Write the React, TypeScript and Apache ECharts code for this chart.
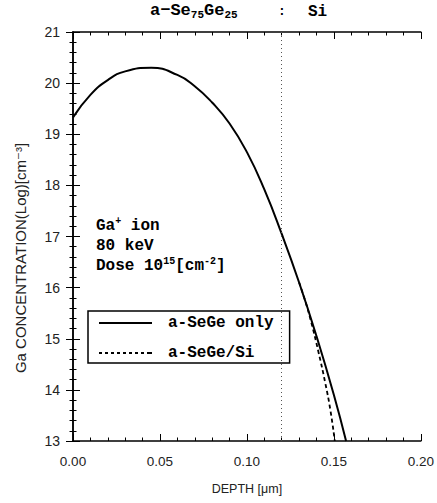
import React, { useEffect, useRef } from "react";
import * as echarts from "echarts";

const depthOnly = [0, 0.01, 0.02, 0.03, 0.045, 0.06, 0.07, 0.08, 0.09, 0.1, 0.11, 0.12, 0.13, 0.14, 0.15, 0.157];
const concOnly = [19.33, 19.77, 20.06, 20.23, 20.3, 20.16, 19.94, 19.62, 19.21, 18.65, 17.92, 17.05, 16.1, 15.05, 13.9, 13.0];
const depthSi = [0.13, 0.1335, 0.137, 0.141, 0.145, 0.148, 0.1505];
const concSi = [16.1, 15.74, 15.32, 14.76, 14.14, 13.6, 13.0];
const interfaceDepth = 0.12;
const xTicks = [0, 0.05, 0.1, 0.15, 0.2];
const yMin = 13;
const yMax = 21;
const seriesNames = ["a-SeGe only", "a-SeGe/Si"];

const mono = "'Liberation Mono', 'DejaVu Sans Mono', monospace";
const sans = "'Liberation Sans', 'DejaVu Sans', sans-serif";

const solidIcon = "path://M0,0h53v2h-53z";
const dashedIcon =
  "path://M0,0h3v2h-3z M6,0h3v2h-3z M12,0h3v2h-3z M18,0h3v2h-3z M24,0h3v2h-3z M30,0h3v2h-3z M36,0h3v2h-3z M42,0h3v2h-3z M48,0h3v2h-3z M50,0h3v2h-3z";

export default function App() {
  const ref = useRef<HTMLDivElement>(null);
  useEffect(() => {
    if (!ref.current) return;
    const chart = echarts.init(ref.current, null, { renderer: "svg" });
    const axisLine = { show: true, lineStyle: { color: "#000", width: 1.5 } };
    const tickIn = { show: true, inside: true, length: 7, lineStyle: { color: "#000", width: 1 } };
    const minorIn = { show: true, splitNumber: 5, length: 3.5, lineStyle: { color: "#000", width: 1 } };
    chart.setOption({
      animation: false,
      backgroundColor: "#fff",
      grid: { left: 73, right: 15, top: 32, bottom: 62 },
      xAxis: [
        {
          type: "value",
          min: 0,
          max: 0.2,
          interval: 0.05,
          axisLine,
          axisTick: tickIn,
          minorTick: minorIn,
          splitLine: { show: false },
          axisLabel: {
            color: "#222",
            fontFamily: sans,
            fontSize: 13.5,
            margin: 13,
            formatter: (v: number) => (xTicks.includes(+v.toFixed(2)) ? v.toFixed(2) : ""),
          },
          name: "DEPTH [μm]",
          nameLocation: "middle",
          nameGap: 41,
          nameTextStyle: { color: "#222", fontFamily: sans, fontSize: 12.5 },
        },
        {
          type: "value",
          position: "top",
          min: 0,
          max: 0.2,
          interval: 0.05,
          axisLine,
          axisTick: tickIn,
          minorTick: minorIn,
          splitLine: { show: false },
          axisLabel: { show: false },
        },
      ],
      yAxis: [
        {
          type: "value",
          min: yMin,
          max: yMax,
          interval: 1,
          axisLine,
          axisTick: tickIn,
          minorTick: minorIn,
          splitLine: { show: false },
          axisLabel: { color: "#222", fontFamily: sans, fontSize: 14, margin: 13 },
        },
        {
          type: "value",
          position: "right",
          min: yMin,
          max: yMax,
          interval: 1,
          axisLine,
          axisTick: tickIn,
          minorTick: minorIn,
          splitLine: { show: false },
          axisLabel: { show: false },
        },
      ],
      legend: {
        orient: "vertical",
        left: 88,
        top: 311,
        padding: [3, 16, 1, 11],
        itemGap: 12,
        itemWidth: 53,
        itemHeight: 2,
        borderColor: "#000",
        borderWidth: 1.5,
        borderRadius: 0,
        data: [
          { name: seriesNames[0], icon: solidIcon },
          { name: seriesNames[1], icon: dashedIcon },
        ],
        itemStyle: { color: "#000", borderWidth: 0 },
        textStyle: {
          color: "#000",
          fontFamily: mono,
          fontWeight: "bold",
          fontSize: 16,
          lineHeight: 18,
          padding: [0, 0, 0, 11],
        },
      },
      series: [
        {
          name: seriesNames[0],
          type: "line",
          smooth: 0.5,
          symbol: "none",
          data: depthOnly.map((d, i) => [d, concOnly[i]]),
          lineStyle: { color: "#000", width: 2 },
          itemStyle: { color: "#000" },
          z: 3,
          markLine: {
            silent: true,
            symbol: "none",
            label: { show: false },
            lineStyle: { color: "#555", type: [1, 3], width: 1 },
            data: [{ xAxis: interfaceDepth }],
          },
        },
        {
          name: seriesNames[1],
          type: "line",
          smooth: 0.5,
          symbol: "none",
          data: depthSi.map((d, i) => [d, concSi[i]]),
          lineStyle: { color: "#000", width: 1.8, type: [4, 3] },
          itemStyle: { color: "#000" },
          z: 2,
        },
      ],
      graphic: [
        {
          type: "text",
          left: 150,
          top: 2,
          style: {
            text: "a−Se{sub|75}Ge{sub|25}",
            font: `bold 17px ${mono}`,
            fill: "#000",
            rich: {
              sub: { font: `bold 11px ${mono}`, fill: "#000", verticalAlign: "bottom", padding: [9, 0, 0, 0] },
            },
          },
        },
        {
          type: "text",
          left: 278,
          top: 5,
          style: { text: ":", font: `bold 13px ${mono}`, fill: "#000" },
        },
        {
          type: "text",
          left: 308,
          top: 4,
          style: { text: "Si", font: `bold 16px ${mono}`, fill: "#000" },
        },
        {
          type: "text",
          left: 96,
          top: 216,
          style: {
            text: "Ga{sup|+} ion\n80 keV\nDose 10{sup|15}[cm{sup|-2}]",
            font: `bold 16px ${mono}`,
            lineHeight: 20,
            fill: "#000",
            rich: {
              sup: { font: `bold 10px ${mono}`, fill: "#000", verticalAlign: "top", lineHeight: 20 },
            },
          },
        },
        {
          type: "text",
          x: 20,
          y: 258,
          rotation: Math.PI / 2,
          style: {
            text: "Ga CONCENTRATION(Log)[cm⁻³]",
            font: `15px ${sans}`,
            fill: "#222",
            align: "center",
            verticalAlign: "middle",
          },
        },
      ],
    });
    return () => chart.dispose();
  }, []);
  return (
    <div
      ref={ref}
      style={{ position: "fixed", left: 0, top: 0, width: 437, height: 503, background: "#fff" }}
    />
  );
}
